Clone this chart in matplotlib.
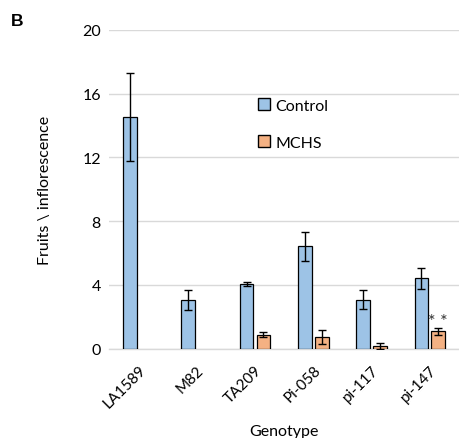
import matplotlib
matplotlib.use("Agg")
import matplotlib.pyplot as plt
import numpy as np
from matplotlib.patches import Patch

plt.rcParams['font.family'] = ['Lato', 'DejaVu Sans']

genotypes = ["LA1589", "M82", "TA209", "Pi-058", "pi-117", "pi-147"]
control = [14.55, 3.05, 4.06, 6.42, 3.07, 4.41]
control_err = [2.75, 0.6, 0.15, 0.9, 0.6, 0.67]
mchs = [np.nan, np.nan, 0.88, 0.75, 0.17, 1.09]
mchs_err = [np.nan, np.nan, 0.15, 0.45, 0.17, 0.22]
yticks = [0, 4, 8, 12, 16, 20]

c_ctrl = "#9DC3E6"
c_mchs = "#F4B183"

fig = plt.figure(figsize=(4.59, 4.39), dpi=100)
ax = fig.add_axes([0.238, 0.2034, 0.762, 0.7266])

x = np.arange(len(genotypes))
w = 0.235
off = 0.145
ax.bar(x - off, control, w, color=c_ctrl, edgecolor="black", linewidth=0.9, zorder=3)
ax.bar(x + off, mchs, w, color=c_mchs, edgecolor="black", linewidth=0.9, zorder=3)
ax.errorbar(x - off, control, yerr=control_err, fmt="none", ecolor="black",
            elinewidth=1, capsize=3, capthick=1, zorder=4)
ax.errorbar(x + off, mchs, yerr=mchs_err, fmt="none", ecolor="black",
            elinewidth=1, capsize=3, capthick=1, zorder=4)

ax.text(x[-1] + off, 1.75, "* *", ha="center", va="center",
        fontsize=13, color="#333333")

ax.set_xlim(-0.5, len(genotypes) - 0.5)
ax.set_ylim(0, 20)
ax.set_yticks(yticks)
ax.set_yticklabels([str(t) for t in yticks], fontsize=11.5)
ax.set_xticks(x)
ax.set_xticklabels(genotypes, rotation=45, ha="right", rotation_mode="anchor", fontsize=11)
ax.tick_params(axis="both", length=0, pad=6)
ax.tick_params(axis="x", pad=10)
ax.grid(axis="y", color="#D9D9D9", linewidth=1, zorder=0)
for s in ["top", "right", "left"]:
    ax.spines[s].set_visible(False)
ax.spines["bottom"].set_color("#D9D9D9")
ax.spines["bottom"].set_linewidth(1)

ax.set_ylabel("Fruits \\ inflorescence", fontsize=11.5)
ax.yaxis.set_label_coords(-0.165, 0.5)
ax.set_xlabel("Genotype", fontsize=11.5)
ax.xaxis.set_label_coords(0.5, -0.235)

handles = [Patch(facecolor=c_ctrl, edgecolor="black", label="Control"),
           Patch(facecolor=c_mchs, edgecolor="black", label="MCHS")]
ax.legend(handles=handles, loc="upper left", bbox_to_anchor=(0.385, 0.83), frameon=False,
          fontsize=11.5, handlelength=0.75, handleheight=0.75, handletextpad=0.3,
          labelspacing=1.4)

fig.text(0.024, 0.95, "B", fontsize=12.5, fontweight="bold", ha="left", va="center",
         family=["Liberation Sans", "DejaVu Sans"])

fig.savefig("out.png", dpi=100)
